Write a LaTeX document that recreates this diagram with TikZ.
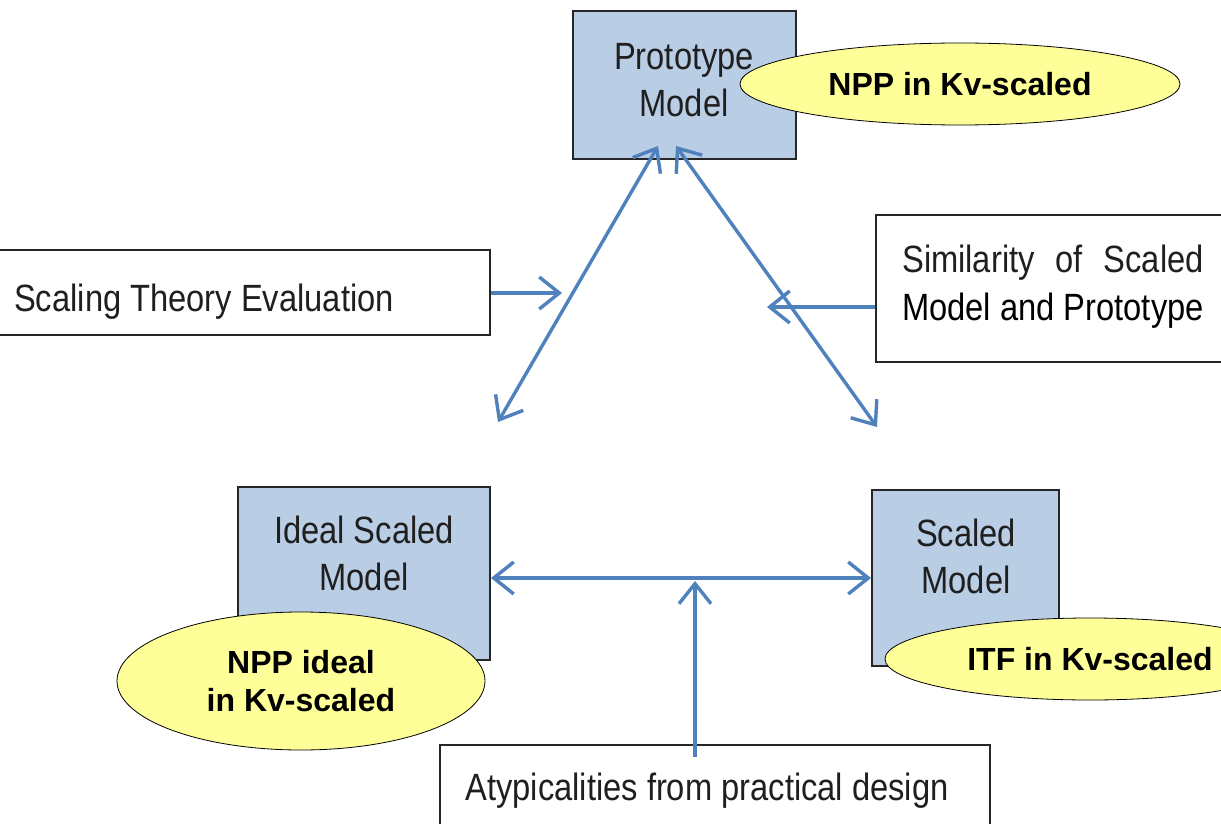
\documentclass[tikz,border=0pt]{standalone}
\usepackage{fontspec}
\setmainfont{Liberation Sans}
\newfontfamily\narrowfont[FakeStretch=0.86]{Liberation Sans}
\usetikzlibrary{arrows.meta,shapes.geometric}
\definecolor{boxblue}{HTML}{B9CDE5}
\definecolor{linkblue}{HTML}{4F81BD}
\definecolor{noteyellow}{HTML}{FFFF99}
\definecolor{framegray}{HTML}{262626}
\newsavebox\simlinebox

\begin{document}
\sbox\simlinebox{\narrowfont\fontsize{38}{47}\selectfont Model and Prototype}%
\begin{tikzpicture}[x=1pt,y=-1pt,
  modelbox/.style={rectangle, draw=framegray, line width=2pt, fill=boxblue, inner sep=0pt},
  textbox/.style={rectangle, draw=framegray, line width=1.6pt, fill=white, inner sep=0pt},
  boxtext/.style={font=\narrowfont\fontsize{38}{47}\selectfont, text=black!88, align=center, inner sep=0pt},
  note/.style={ellipse, draw=black, line width=0.8pt, fill=noteyellow, inner sep=0pt,
    font=\bfseries\fontsize{32}{38}\selectfont, align=center},
  barb/.tip={Straight Barb[length=20pt,width=32pt]},
  link/.style={draw=linkblue, line width=3.4pt, -barb},
  twoway/.style={draw=linkblue, line width=3.4pt, barb-barb}
]
\useasboundingbox (0,0) rectangle (1221,824);
\clip (0,0) rectangle (1221,824);
\fill[white] (0,0) rectangle (1221,824);

% model boxes
\node[modelbox, minimum width=223pt, minimum height=148pt] (proto) at (684.5,85) {};
\node[boxtext] (protoT) at (684,80) {Prototype\\Model};
\node[modelbox, minimum width=252pt, minimum height=173pt] (ideal) at (364,573.5) {};
\node[boxtext] (idealT) at (364,553) {Ideal Scaled\\Model};
\node[modelbox, minimum width=187pt, minimum height=176pt] (scaled) at (965.5,578) {};
\node[boxtext] (scaledT) at (966,556) {Scaled\\Model};

% influence boxes
\node[textbox, minimum width=500pt, minimum height=85pt] (theory) at (240,292.5) {};
\node[boxtext, anchor=base west] (theoryT) at (14,311) {Scaling Theory Evaluation};
\node[textbox, minimum width=364pt, minimum height=147pt] (sim) at (1058,288.5) {};
\node[boxtext, anchor=base west] (simA) at (902,272) {\makebox[\wd\simlinebox][s]{Similarity of Scaled}};
\node[boxtext, anchor=base west] (simB) at (902,320) {\usebox\simlinebox};
\node[textbox, minimum width=550pt, minimum height=105pt] (atyp) at (715,797.5) {};
\node[boxtext, anchor=base] (atypT) at (707,800) {Atypicalities from practical design};

% connector end points
\coordinate (ptL) at (658,146);
\coordinate (ptR) at (676,146);
\coordinate (isTip) at (498,422);
\coordinate (smTip) at (877,427);
\coordinate (theoryTip) at (562,293);
\coordinate (simTip) at (767,307);
\coordinate (mid) at (695,578);

% connectors
\draw[twoway] (isTip) -- (ptL);
\draw[twoway] (ptR) -- (smTip);
\draw[link] (theory.east |- theoryTip) -- (theoryTip);
\draw[link] (sim.west |- simTip) -- (simTip);
\draw[twoway] (ideal.east |- mid) -- (scaled.west |- mid);
\draw[link] ([yshift=-13pt]atyp.north -| mid) -- ([yshift=-3pt]mid);

% notes
\node[note, minimum width=440pt, minimum height=82pt] (noteP) at (960,84) {NPP in Kv-scaled};
\node[note, minimum width=368pt, minimum height=138pt] (noteI) at (301,681) {NPP ideal\\in Kv-scaled};
\node[note, minimum width=410pt, minimum height=82pt] (noteS) at (1090,659) {ITF in Kv-scaled};
\end{tikzpicture}
\end{document}
